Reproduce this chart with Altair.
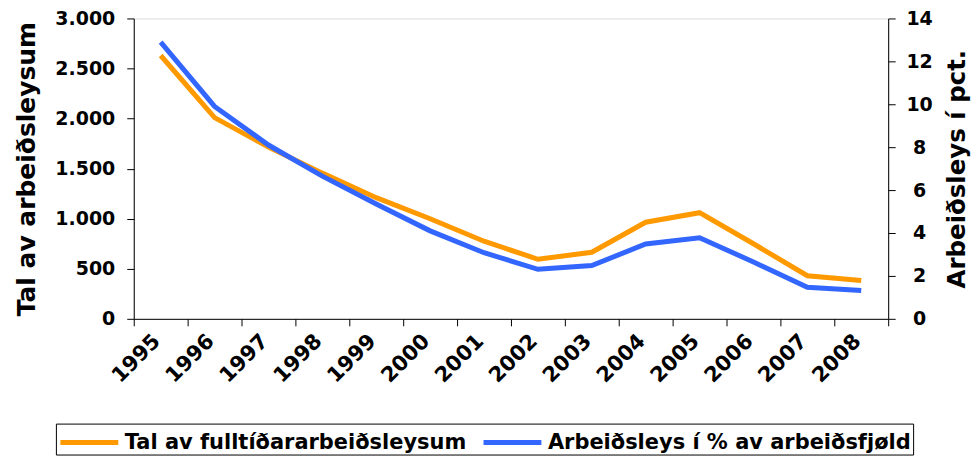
import altair as alt
import pandas as pd

years = ["1995", "1996", "1997", "1998", "1999", "2000", "2001",
         "2002", "2003", "2004", "2005", "2006", "2007", "2008"]
fulltime = [2630, 2010, 1715, 1455, 1210, 1000, 775, 595, 665, 965, 1060, 750, 430, 382]
pct = [12.9, 9.9, 8.1, 6.65, 5.35, 4.1, 3.08, 2.31, 2.48, 3.49, 3.78, 2.65, 1.47, 1.32]
series_names = ["Tal av fulltíðararbeiðsleysum", "Arbeiðsleys í % av arbeiðsfjøld"]
colors = ["#FF9900", "#3366FF"]
left_ticks = [0, 500, 1000, 1500, 2000, 2500, 3000]
right_ticks = [0, 2, 4, 6, 8, 10, 12, 14]

df = pd.DataFrame({
    "year": years * 2,
    "value": fulltime + pct,
    "series": [series_names[0]] * len(years) + [series_names[1]] * len(years),
})

FONT = "DejaVu Sans"

x = alt.X(
    "year:O",
    sort=years,
    scale=alt.Scale(type="band", paddingInner=0, paddingOuter=0),
    axis=alt.Axis(
        title=None, labelAngle=-45, labelAlign="right", labelBaseline="middle",
        tickBand="extent", labelFontSize=21, labelFontWeight="bold", labelFont=FONT,
        labelColor="black", domainColor="black", tickColor="black", tickSize=7,
        labelPadding=12, labelOffset=-4, grid=False,
    ),
)

color = alt.Color(
    "series:N",
    scale=alt.Scale(domain=series_names, range=colors),
    legend=alt.Legend(
        title=None, orient="none", legendX=-78, legendY=406, direction="horizontal",
        columns=2, symbolType="M-1,0L3,0", symbolSize=841, symbolStrokeWidth=5,
        labelFont=FONT, labelFontSize=21,
        labelFontWeight="bold", labelColor="black", labelLimit=600, labelOffset=33,
        strokeColor="black", padding=2, columnPadding=6,
    ),
)

left = alt.Chart(df).transform_filter(
    alt.datum.series == series_names[0]
).mark_line(strokeWidth=5).encode(
    x=x,
    y=alt.Y(
        "value:Q",
        scale=alt.Scale(domain=[0, 3000], nice=False),
        axis=alt.Axis(
            title="Tal av arbeiðsleysum", values=left_ticks,
            labelExpr="replace(format(datum.value, ','), ',', '.')",
            labelFontSize=19, labelFontWeight="bold", labelFont=FONT, labelColor="black",
            titleFontSize=25, titleFont=FONT, titleFontWeight="bold", titleColor="black",
            titlePadding=15, labelPadding=12, tickSize=7, tickColor="black",
            domainColor="black", grid=False,
        ),
    ),
    color=color,
)

right = alt.Chart(df).transform_filter(
    alt.datum.series == series_names[1]
).mark_line(strokeWidth=5).encode(
    x=x,
    y=alt.Y(
        "value:Q",
        scale=alt.Scale(domain=[0, 14], nice=False),
        axis=alt.Axis(
            orient="right", title="Arbeiðsleys í pct.", values=right_ticks,
            labelFontSize=19, labelFontWeight="bold", labelFont=FONT, labelColor="black",
            labelAlign="center", labelPadding=24,
            titleFontSize=24.5, titleFont=FONT, titleFontWeight="bold", titleColor="black",
            titleAngle=270, titleBaseline="top",
            titlePadding=13, tickSize=7, tickColor="black", domainColor="black", grid=False,
        ),
    ),
    color=color,
)

chart = alt.layer(left, right).resolve_scale(y="independent").properties(
    width=756, height=301,
    autosize=alt.AutoSizeParams(type="none"),
    padding={"left": 126, "top": 10, "right": 84, "bottom": 140},
).configure_view(stroke="#999999", strokeWidth=1).configure(background="white")

chart.save("out.html", embed_options={"renderer": "svg", "actions": False})
